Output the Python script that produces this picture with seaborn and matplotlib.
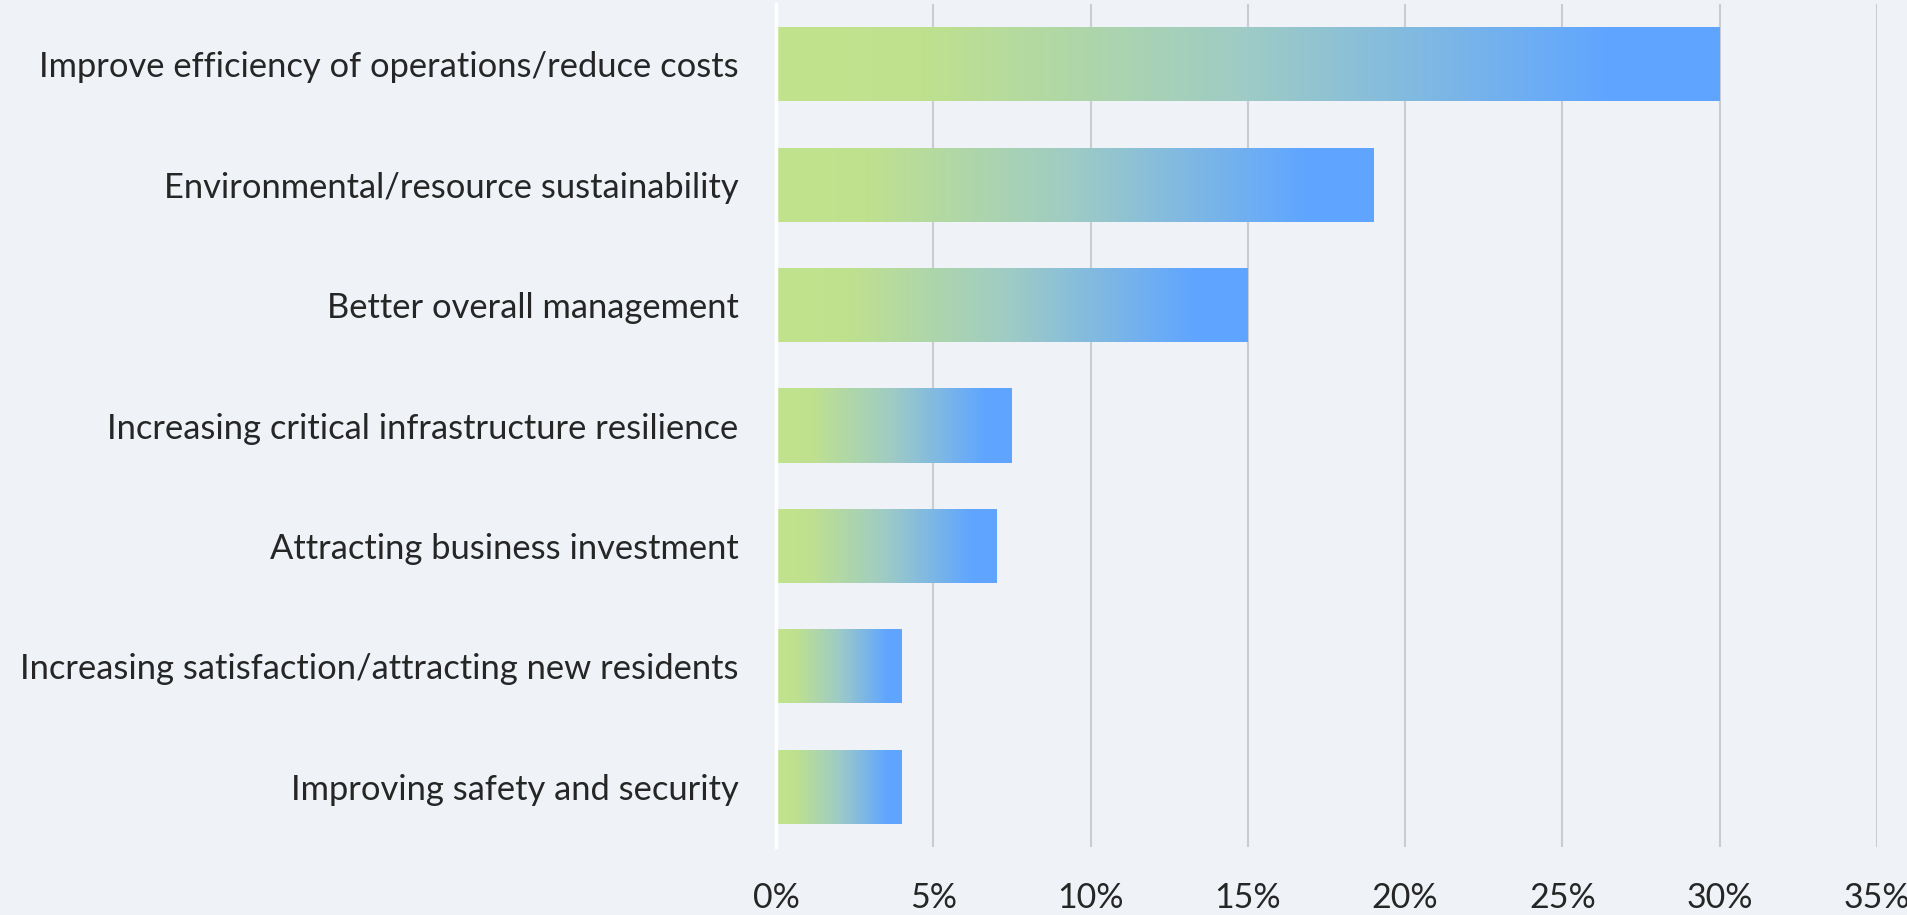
import numpy as np
import pandas as pd
import matplotlib
matplotlib.use("Agg")
import matplotlib.pyplot as plt
from matplotlib.colors import LinearSegmentedColormap
from matplotlib.ticker import PercentFormatter, MultipleLocator
import seaborn as sns

categories = [
    "Improve efficiency of operations/reduce costs",
    "Environmental/resource sustainability",
    "Better overall management",
    "Increasing critical infrastructure resilience",
    "Attracting business investment",
    "Increasing satisfaction/attracting new residents",
    "Improving safety and security",
]
values = [30, 19, 15, 7.5, 7, 4, 4]

BG = "#eff3f7"
TEXT = "#262626"
GRID = "#c9cdd1"

sns.set_theme(style="white")
plt.rcParams["font.family"] = ["Lato", "DejaVu Sans"]

df = pd.DataFrame({"category": categories, "value": values})

fig = plt.figure(figsize=(19.07, 9.15), dpi=100, facecolor=BG)
ax = fig.add_axes([0.4069, 0.0743, 0.9843 - 0.4069, 0.9956 - 0.0743])
ax.set_facecolor(BG)

sns.barplot(data=df, x="value", y="category", orient="h", color="#5fa6ff",
            width=0.615, ax=ax, zorder=3)

cmap = LinearSegmentedColormap.from_list(
    "g", [(0.0, "#c2e38c"), (0.15, "#bfe18e"), (0.5, "#9ecbc6"), (0.88, "#60a6ff"), (1.0, "#5fa5ff")])
grad = np.linspace(0, 1, 256).reshape(1, -1)
for p in ax.patches:
    x0, y0 = p.get_x(), p.get_y()
    w, h = p.get_width(), p.get_height()
    im = ax.imshow(grad, cmap=cmap, aspect="auto", extent=(x0, x0 + w, y0 + h, y0),
                   zorder=4, interpolation="bilinear")
    im.set_clip_path(p)
    p.set_facecolor("none")
    p.set_edgecolor("none")

ax.set_xlim(0, 35)
ax.set_ylim(6.5, -0.5)
ax.xaxis.set_major_locator(MultipleLocator(5))
ax.xaxis.set_major_formatter(PercentFormatter(decimals=0))
ax.grid(axis="x", color=GRID, linewidth=1.5, zorder=0)
ax.set_axisbelow(True)
for s in ["top", "right", "bottom"]:
    ax.spines[s].set_visible(False)
ax.spines["left"].set_color("white")
ax.spines["left"].set_linewidth(2.5)
ax.spines["left"].set_zorder(5)
ax.set_xlabel("")
ax.set_ylabel("")
ax.tick_params(axis="x", length=0, pad=25, labelsize=24.5, labelcolor=TEXT)
ax.tick_params(axis="y", length=0, pad=27, labelsize=24.8, labelcolor=TEXT)

fig.savefig("out.png", dpi=100, facecolor=BG)
